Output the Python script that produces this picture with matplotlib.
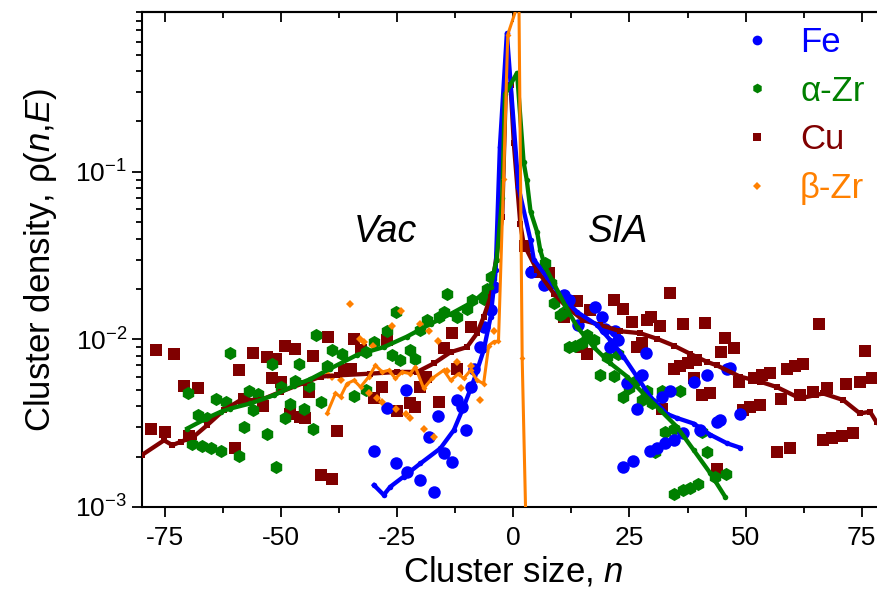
import numpy as np
import matplotlib.pyplot as plt
from matplotlib.lines import Line2D
from matplotlib.ticker import NullFormatter

plt.rcParams['font.family'] = ['Liberation Sans', 'DejaVu Sans']
plt.rcParams['mathtext.fontset'] = 'custom'
plt.rcParams['mathtext.rm'] = 'Liberation Sans'
plt.rcParams['mathtext.it'] = 'Liberation Sans:italic'
plt.rcParams['axes.unicode_minus'] = False

# ---- Fe (points) ----
fe_n = [-30, -27.2, -25.2, -23.1, -22.9, -20, -18.2, -17.1, -16.2, -15, -13.2, -12.1, -11, -10.3,
        -9.2, -8.5, -7.1, -6.4, -4.9, -4.2,
        3.7, 6.5, 10.8, 11.9, 14, 17.6, 19.1, 19.8, 20.9, 21.9, 22.6, 23.7, 24.5, 25.7, 26.6, 27.7,
        28.6, 29.5, 30.9, 32, 32.7, 33.8, 34.5, 36.6, 38.8, 40.2, 41.7, 43.8, 44.5, 46, 46.7, 48.8]
fe_rho = [2.17e-3, 3.9e-3, 1.82e-3, 5.0e-3, 1.62e-3, 1.45e-3, 2.6e-3, 1.23e-3, 3.5e-3, 2.1e-3, 1.86e-3,
          4.35e-3, 3.96e-3, 2.9e-3, 5.2e-3, 6.7e-3, 9.0e-3, 0.0119, 0.015, 0.0206,
          0.0253, 0.0211, 0.0183, 0.0171, 0.0122, 0.0156, 0.0136, 0.0116, 0.009, 0.0112, 0.0099, 1.74e-3,
          5.5e-3, 1.89e-3, 3.87e-3, 6.1e-3, 8.3e-3, 2.17e-3, 2.24e-3, 4.55e-3, 2.4e-3, 4.9e-3, 2.5e-3,
          2.75e-3, 5.6e-3, 2.9e-3, 6.1e-3, 3.2e-3, 3.3e-3, 6.7e-3, 6.8e-3, 3.57e-3]
# ---- Fe (line) ----
fe_ln = [-30, -27.9, -26.5, -23.6, -20, -15.7, -12.8, -10.7, -8.5, -6.4, -4.9, -3.8, -2.9, -1.4, 1.1,
         3.7, 4.4, 7.2, 10.1, 13.7, 18, 20.9, 23.7, 26.6, 29.5, 33, 35.2, 38.8, 42.4, 46, 48.8]
fe_lrho = [1.35e-3, 1.18e-3, 1.32e-3, 1.52e-3, 1.82e-3, 2.24e-3, 2.88e-3, 3.96e-3, 5.7e-3, 8.6e-3,
           0.0136, 0.026, 0.141, 0.67, 0.081,
           0.039, 0.030, 0.0236, 0.0184, 0.0146, 0.0122, 0.0099, 7.9e-3, 6.0e-3, 4.55e-3, 3.6e-3,
           3.4e-3, 3.15e-3, 2.7e-3, 2.4e-3, 2.26e-3]

# ---- alpha-Zr (points) ----
az_n = [-70, -69.1, -67.9, -67.1, -66, -65, -64.1, -63, -61.9, -61, -59.1, -58, -57, -56, -54.9, -53,
        -52, -51.2, -50.1, -49.2, -48.1, -47.1, -46.1, -45.1, -44, -43.2, -42.4, -41.5, -40.1, -39,
        -36.8, -34.3, -31.8, -31.8, -30, -27.2, -26.1, -25.2, -24.3, -22.2, -21.1, -20, -18.6, -16.1,
        -15, -14.2, -12.1, -10, -8.9, -6.4, -5.7, -4.9,
        6.9, 8, 8.7, 10.1, 10.8, 11.9, 13.3, 14.8, 15.8, 17.3, 18.7, 20.1, 21.7, 22.6, 23.7, 24.8, 25.9,
        27.7, 28.7, 29.8, 30.5, 32, 32.7, 34.5, 34.5, 35.9, 36.6, 38.1, 39.8, 40.6, 41.7, 43.4, 45.7]
az_rho = [4.76e-3, 2.38e-3, 3.54e-3, 2.31e-3, 3.4e-3, 2.24e-3, 4.4e-3, 2.16e-3, 4.25e-3, 8.35e-3,
          2.02e-3, 3.0e-3, 4.9e-3, 3.8e-3, 4.7e-3, 2.72e-3, 7.1e-3, 1.74e-3, 5.2e-3, 3.4e-3, 4.1e-3,
          5.65e-3, 7.1e-3, 3.87e-3, 5.27e-3, 2.94e-3, 0.0107, 4.25e-3, 6.9e-3, 8.7e-3, 8.2e-3, 4.6e-3,
          8.4e-3, 5.0e-3, 9.64e-3, 0.0112, 8.1e-3, 0.0145, 7.5e-3, 8.6e-3, 7.6e-3, 0.0114, 0.0130,
          0.0136, 0.0146, 0.0187, 0.0136, 0.0153, 0.0172, 0.0174, 0.0201, 0.0236,
          0.0284, 0.0216, 0.0164, 0.0139, 0.0146, 9.0e-3, 9.1e-3, 9.5e-3, 0.0106, 9.9e-3, 6.1e-3,
          7.9e-3, 6.05e-3, 8.2e-3, 4.55e-3, 5.1e-3, 5.6e-3, 4.35e-3, 4.9e-3, 4.15e-3, 2.14e-3, 4.9e-3,
          2.8e-3, 2.94e-3, 1.2e-3, 4.95e-3, 1.27e-3, 1.29e-3, 1.37e-3, 2.8e-3, 2.14e-3, 1.52e-3, 1.57e-3]
# ---- alpha-Zr (line) ----
az_ln = [-70.2, -65.9, -63, -60.9, -56.6, -51.5, -47.2, -43.7, -39.4, -33.6, -27.9, -22.9, -17.8,
         -13.5, -8.5, -4.9, -3.6, -2.4, -1.8, 0.8, 2.2, 2.9, 3.7, 5.1, 5.8, 6.9, 8.7, 11.2, 13.7,
         17.3, 20.9, 24.5, 28, 31.6, 35.2, 38.8, 42.4, 45.6]
az_lrho = [2.94e-3, 3.4e-3, 3.7e-3, 3.87e-3, 4.15e-3, 4.65e-3, 5.3e-3, 5.8e-3, 6.7e-3, 8.1e-3, 9.0e-3,
           0.0104, 0.0124, 0.0142, 0.0169, 0.0206, 0.03, 0.07, 0.29, 0.39, 0.115, 0.089, 0.058, 0.044,
           0.034, 0.027, 0.0216, 0.0159, 0.0119, 9.0e-3, 7.2e-3, 6.0e-3, 4.75e-3, 3.79e-3, 3.01e-3,
           2.19e-3, 1.59e-3, 1.15e-3]

# ---- Cu (points) ----
cu_n = [-78.1, -77, -75, -73, -70.9, -69.8, -67.9, -60, -59.1, -58, -56.1, -54, -53.1, -52, -51,
        -50.1, -49.2, -48.1, -47.1, -46, -44.9, -44, -43.2, -41.3, -40, -39, -38, -36.5, -35, -34.2,
        -32.9, -30, -28.2, -27.2, -25, -22.2, -21.1, -20, -18.9, -16.1, -15, -13.2, -12.1, -9.2,
        2.6, 4.7, 7.6, 10.8, 13.7, 14.8, 15.8, 16.6, 21.6, 23.7, 25.5, 26.6, 27.7, 28.7, 29.6, 31.6,
        32, 33.8, 34.5, 35.9, 36.6, 37.5, 39.3, 38.8, 40.6, 42.4, 41.3, 43.8, 44.6, 45.6, 47.6, 48.6,
        49.5, 51, 53.1, 51.7, 53.5, 55.3, 56.7, 57.6, 58.9, 59.6, 60.6, 61.7, 62.4, 64.6, 65.7, 66.7,
        67.5, 68.5, 70.7, 71.7, 73.2, 74.6, 75.7, 77.3]
cu_rho = [2.92e-3, 8.6e-3, 2.8e-3, 8.2e-3, 5.3e-3, 2.65e-3, 5.1e-3, 2.26e-3, 6.6e-3, 4.4e-3, 8.35e-3,
          4.0e-3, 7.9e-3, 5.85e-3, 7.6e-3, 5.6e-3, 9.2e-3, 3.6e-3, 8.8e-3, 3.43e-3, 3.38e-3, 4.87e-3,
          8.0e-3, 1.55e-3, 0.0104, 1.46e-3, 2.84e-3, 6.55e-3, 6.7e-3, 0.0101, 8.6e-3, 4.45e-3, 5.2e-3,
          9.9e-3, 3.76e-3, 4.15e-3, 3.96e-3, 5.2e-3, 5.97e-3, 4.25e-3, 8.9e-3, 0.0109, 6.7e-3, 0.0119,
          0.036, 0.0253, 0.0248, 0.0136, 0.0169, 9.0e-3, 8.2e-3, 0.0149, 0.0171, 0.0153, 0.0127, 9.0e-3,
          9.5e-3, 0.0130, 0.0136, 0.0120, 3.87e-3, 0.0190, 6.7e-3, 6.9e-3, 0.0124, 7.2e-3, 7.5e-3,
          5.9e-3, 4.65e-3, 4.8e-3, 0.0125, 1.68e-3, 8.4e-3, 0.0102, 8.9e-3, 5.6e-3, 3.8e-3, 3.93e-3,
          4.05e-3, 5.9e-3, 6.1e-3, 6.3e-3, 2.14e-3, 4.4e-3, 6.7e-3, 2.26e-3, 6.9e-3, 4.65e-3, 7.1e-3,
          4.87e-3, 0.0124, 2.51e-3, 5.1e-3, 2.57e-3, 2.66e-3, 5.4e-3, 2.77e-3, 5.6e-3, 8.5e-3, 5.85e-3]
# ---- Cu (line) ----
cu_ln = [-80, -75.2, -73.4, -71.6, -68.8, -65.9, -62.3, -58.7, -54.4, -50.1, -45.1, -41.5, -37.9,
         -30.8, -25, -20.7, -17.1, -13.5, -10, -7.8, -6.4, -4.9, -2.4, -1.6, -0.6, 0.1, 1.5, 2.2, 5.1,
         8.7, 11.5, 15.1, 18.7, 23, 27.3, 30.9, 34.5, 38.1, 41.7, 43.8, 48.8, 53.1, 56.7, 61.7, 66.7,
         71, 74.6, 76.8, 78.2, 80]
cu_lrho = [2.04e-3, 2.5e-3, 2.34e-3, 2.45e-3, 2.63e-3, 3.08e-3, 3.79e-3, 4.35e-3, 4.35e-3, 4.87e-3,
           5.5e-3, 6.0e-3, 6.1e-3, 6.25e-3, 6.4e-3, 6.4e-3, 7.2e-3, 8.4e-3, 9.0e-3, 0.0109, 0.0136,
           0.018, 0.054, 0.33, 0.33, 0.148, 0.049, 0.0373, 0.0259, 0.0188, 0.0156, 0.0130, 0.0122,
           0.0112, 0.0109, 0.0101, 9.2e-3, 8.2e-3, 7.35e-3, 7.0e-3, 6.0e-3, 5.6e-3, 5.2e-3, 4.45e-3,
           4.76e-3, 4.35e-3, 3.62e-3, 3.7e-3, 3.2e-3, 2.9e-3]

# ---- beta-Zr (points) ----
bz_n = [-40, -39, -37.2, -35.2, -33, -32.2, -31.1, -30.2, -29.3, -28.2, -26.1, -25.2, -24.2, -23.2,
        -22.2, -20.1, -19.3, -18.2, -17.1, -16.2, -14.3, -12.1, -11.2, -9.1, -7.1, -4.2]
bz_rho = [6.1e-3, 6.0e-3, 5.7e-3, 0.0162, 0.0101, 9.7e-3, 4.76e-3, 9.2e-3, 4.45e-3, 4.25e-3, 0.012,
          3.87e-3, 0.0147, 3.57e-3, 3.38e-3, 0.0123, 2.94e-3, 0.0112, 2.63e-3, 9.8e-3, 6.5e-3, 7.35e-3,
          5.1e-3, 6.9e-3, 4.35e-3, 0.0112]
# ---- beta-Zr (line) ----
bz_ln = [-40.1, -38.3, -37.2, -35.8, -34.3, -32.9, -31.1, -29.7, -28.2, -26.8, -25.4, -23.9, -22.2,
         -21.1, -19.3, -17.5, -15, -13.5, -11.8, -10.7, -9.2, -7.8, -6.4, -5.3, -4.2, -3.2, -2.1,
         -1.2, 1.2, 1.9, 2.7]
bz_lrho = [3.62e-3, 4.76e-3, 4.55e-3, 5.45e-3, 5.7e-3, 5.2e-3, 6.0e-3, 7.0e-3, 6.4e-3, 6.55e-3,
           5.85e-3, 6.4e-3, 6.25e-3, 6.85e-3, 5.1e-3, 5.85e-3, 6.55e-3, 5.7e-3, 6.25e-3, 5.85e-3,
           6.55e-3, 5.7e-3, 5.45e-3, 9.2e-3, 9.7e-3, 9.8e-3, 0.091, 0.66, 1.05, 7.7e-3, 8e-4]

c_fe = '#0000ff'
c_az = '#008000'
c_cu = '#800000'
c_bz = '#ff8000'

fig = plt.figure(figsize=(8.77, 5.95), dpi=100)
ax = fig.add_axes([0.1616, 0.1479, 0.8475, 0.8319])

# scatter data
ax.plot(cu_n, cu_rho, 's', color=c_cu, ms=8, mew=0, zorder=2)
ax.plot(az_n, az_rho, 'h', color=c_az, ms=9.5, mew=0, zorder=2)
ax.plot(fe_n, fe_rho, 'o', color=c_fe, ms=9, mew=0, zorder=2)
ax.plot(bz_n, bz_rho, 'D', color=c_bz, ms=4.5, mew=0, zorder=2)

# smoothed lines
ax.plot(cu_ln, cu_lrho, '-s', color=c_cu, lw=3.1, ms=4, mew=0, zorder=3)
ax.plot(fe_ln, fe_lrho, '-o', color=c_fe, lw=3.1, ms=4, mew=0, zorder=3)
ax.plot(az_ln, az_lrho, '-o', color=c_az, lw=3.1, ms=4, mew=0, zorder=3)
ax.plot(bz_ln, bz_lrho, '-D', color=c_bz, lw=2.2, ms=3, mew=0, zorder=4)

ax.set_yscale('log')
ax.set_xlim(-80, 80)
ax.set_ylim(1e-3, 0.9)
ax.set_xticks([-75, -50, -25, 0, 25, 50, 75])
ax.set_xticks([-62.5, -37.5, -12.5, 12.5, 37.5, 62.5], minor=True)
ax.set_yticks([1e-3, 1e-2, 1e-1])
ax.yaxis.set_minor_formatter(NullFormatter())
ax.tick_params(which='both', direction='out', width=1.3, labelsize=19)
ax.tick_params(which='major', length=7)
ax.tick_params(which='minor', length=4)
ax.tick_params(axis='x', which='major', pad=7)
for s in ax.spines.values():
    s.set_linewidth(1.5)
ax.spines['right'].set_visible(False)

top = ax.secondary_xaxis('top')
top.set_xticks([-75, -50, -25, 0, 25, 50, 75])
top.set_xticks([-62.5, -37.5, -12.5, 12.5, 37.5, 62.5], minor=True)
top.tick_params(which='both', direction='in', labeltop=False, width=1.3)
top.tick_params(which='major', length=7)
top.tick_params(which='minor', length=4)
top.spines['top'].set_linewidth(1.5)

ax.set_xlabel(r'Cluster size, $n$', fontsize=25, labelpad=3)
ax.set_ylabel(r'Cluster density, ρ($n$,$E$)', fontsize=25, labelpad=12)

ax.text(-27.5, 0.0436, 'Vac', fontsize=27, style='italic', ha='center', va='center')
ax.text(22.6, 0.0436, 'SIA', fontsize=27, style='italic', ha='center', va='center')

handles = [Line2D([], [], ls='none', marker='o', color=c_fe, ms=7, mew=0),
           Line2D([], [], ls='none', marker='h', color=c_az, ms=7, mew=0),
           Line2D([], [], ls='none', marker='s', color=c_cu, ms=6, mew=0),
           Line2D([], [], ls='none', marker='D', color=c_bz, ms=4.5, mew=0)]
ax.legend(handles, ['Fe', 'α-Zr', 'Cu', 'β-Zr'], loc='upper left',
          bbox_to_anchor=(0.835, 0.968), bbox_transform=fig.transFigure,
          frameon=False, fontsize=25, labelcolor=[c_fe, c_az, c_cu, c_bz],
          handlelength=1.0, handletextpad=0.75, labelspacing=0.45, borderpad=0.2,
          borderaxespad=0)

fig.savefig('out.png', dpi=100)
